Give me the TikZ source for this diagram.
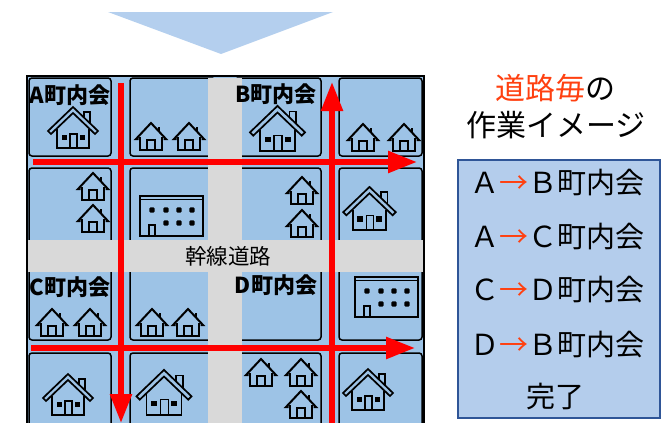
\documentclass[tikz,border=0pt]{standalone}
\usepackage{fontspec}
\usetikzlibrary{arrows.meta}
\newfontfamily\jp{Noto Sans CJK JP}
\definecolor{mapblue}{HTML}{9DC3E6}
\definecolor{roadgray}{HTML}{D9D9D9}
\definecolor{boxfill}{HTML}{B4CDEC}
\definecolor{boxline}{HTML}{2F5597}
\definecolor{trifill}{HTML}{B4CFEE}
\definecolor{hot}{HTML}{FF4010}
\definecolor{redline}{HTML}{FF0000}
\tikzset{
  cell/.style={draw=black, line width=1.5pt, rounded corners=3pt, fill=mapblue},
  route/.style={draw=redline, line width=5.5pt, -{Triangle[length=29pt,width=21pt]}},
  areatag/.style={font=\jp\bfseries\fontsize{22}{26}\selectfont, inner sep=0pt},
  boxtext/.style={font=\jp\fontsize{29}{34}\selectfont, inner sep=0pt},
  bighouse/.pic={
    \draw[line width=1.7pt, line join=miter] (-25,-17) -- (0,-41) -- (25,-17) -- (22,-14) -- (0,-35) -- (-22,-14) -- cycle;
    \draw[line width=1.7pt] (-16,-19.5) -- (-16,0) -- (16,0) -- (16,-19.5);
    \draw[line width=1.7pt] (11,-30.5) -- (11,-36) -- (17,-36) -- (17,-24.7);
    \draw[line width=1.5pt] (-3,0) -- (-3,-14) -- (4,-14) -- (4,0);
    \fill (-11.5,-13) rectangle (-6,-8);
    \fill (6.5,-13) rectangle (12,-8);
  },
  smallhouse/.pic={
    \draw[line width=2pt, line join=miter] (-12.5,-11) -- (-15,-11) -- (0,-27) -- (15,-11) -- (12.5,-11);
    \draw[line width=2pt] (-11,-13.5) -- (-11,0) -- (11,0) -- (11,-13.5);
    \draw[line width=2pt] (-4,0) -- (-4,-10) -- (3.5,-10) -- (3.5,0);
    \draw[line width=2pt] (8,-18.5) -- (8,-23);
  },
  building/.pic={
    \draw[line width=1.7pt] (0,0) rectangle (63,40);
    \draw[line width=1.5pt] (0,3.5) -- (63,3.5);
    \foreach \bx in {12,26,39,52} { \fill[rounded corners=1pt] (\bx-2.6,14-2.6) rectangle (\bx+2.6,14+2.6); }
    \foreach \bx in {26,39,52} { \fill[rounded corners=1pt] (\bx-2.6,27-2.6) rectangle (\bx+2.6,27+2.6); }
    \draw[line width=1.5pt] (9,40) -- (9,29) -- (15,29) -- (15,40);
  }
}
\begin{document}
\begin{tikzpicture}[x=1pt,y=-1pt]
\useasboundingbox (0,0) rectangle (665,423);
\clip (0,0) rectangle (665,423);
% top triangle
\fill[trifill] (108,12) -- (333,12) -- (221,54) -- cycle;
% map background
\fill[mapblue] (27,76) rectangle (424,440);
% cells
\foreach \xa/\xb in {29/111,130/215,235/321,339/422}{
  \foreach \ya/\yb in {78/156,168/245,265/340,353/445}{
    \draw[cell] (\xa,\ya) rectangle (\xb,\yb);
  }
}
% roads
\fill[roadgray] (208,78) rectangle (242,440);
\fill[roadgray] (28,240) rectangle (423,272);
\node[font=\jp\fontsize{21.5}{24}\selectfont, inner sep=0pt] (trunk) at (228,256) {幹線道路};
% frame
\draw[line width=2.5pt] (27,440) -- (27,76) -- (424,76) -- (424,440);
% houses
\pic at (73,148) {bighouse};
\pic[scale=1.1] at (277.5,151) {bighouse};
\pic[scale=1.05] at (369.5,230) {bighouse};
\pic at (68,415) {bighouse};
\pic[scale=1.1] at (164,415) {bighouse};
\pic at (368,410) {bighouse};
\pic at (151,150) {smallhouse};
\pic at (189,150) {smallhouse};
\pic at (363,151) {smallhouse};
\pic at (404,151) {smallhouse};
\pic at (93,200) {smallhouse};
\pic at (93,232) {smallhouse};
\pic at (302,204) {smallhouse};
\pic at (302,237) {smallhouse};
\pic at (52,336) {smallhouse};
\pic at (90,336) {smallhouse};
\pic at (152,336) {smallhouse};
\pic at (188,336) {smallhouse};
\pic at (261,386) {smallhouse};
\pic at (301,386) {smallhouse};
\pic at (301,418) {smallhouse};
\pic at (140,196) {building};
\pic at (355,277) {building};
% area labels
\node[areatag] (tagA) at (70,95) {A町内会};
\node[areatag] (tagB) at (276,94) {B町内会};
\node[areatag] (tagC) at (70,287) {C町内会};
\node[areatag] (tagD) at (276,285) {D町内会};
% routes
\coordinate (h1s) at (33,162);  \coordinate (h1e) at (417,162);
\coordinate (v1s) at (121,83);  \coordinate (v1e) at (121,423);
\coordinate (v2s) at (332,440); \coordinate (v2e) at (332,82);
\coordinate (h2s) at (31,348);  \coordinate (h2e) at (415,348);
\draw[route] (h1s) -- (h1e);
\draw[route] (h2s) -- (h2e);
\draw[route] (v1s) -- (v1e);
\draw[route] (v2s) -- (v2e);
% right side
\node[font=\jp\fontsize{30}{34}\selectfont, inner sep=0pt] (title1) at (555,88) {\textcolor{hot}{道路毎}の};
\node[font=\jp\fontsize{30}{34}\selectfont, inner sep=0pt] (title2) at (556,125) {作業イメージ};
\node[draw=boxline, fill=boxfill, line width=1.3pt, minimum width=202pt, minimum height=258pt, inner sep=0pt] (box) at (559,289) {};
\node[boxtext] (l1) at (557,183) {Ａ\textcolor{hot}{→}Ｂ町内会};
\node[boxtext] (l2) at (557,237) {Ａ\textcolor{hot}{→}Ｃ町内会};
\node[boxtext] (l3) at (557,290) {Ｃ\textcolor{hot}{→}Ｄ町内会};
\node[boxtext] (l4) at (557,345) {Ｄ\textcolor{hot}{→}Ｂ町内会};
\node[boxtext] (l5) at (555,397) {完了};
\end{tikzpicture}
\end{document}
